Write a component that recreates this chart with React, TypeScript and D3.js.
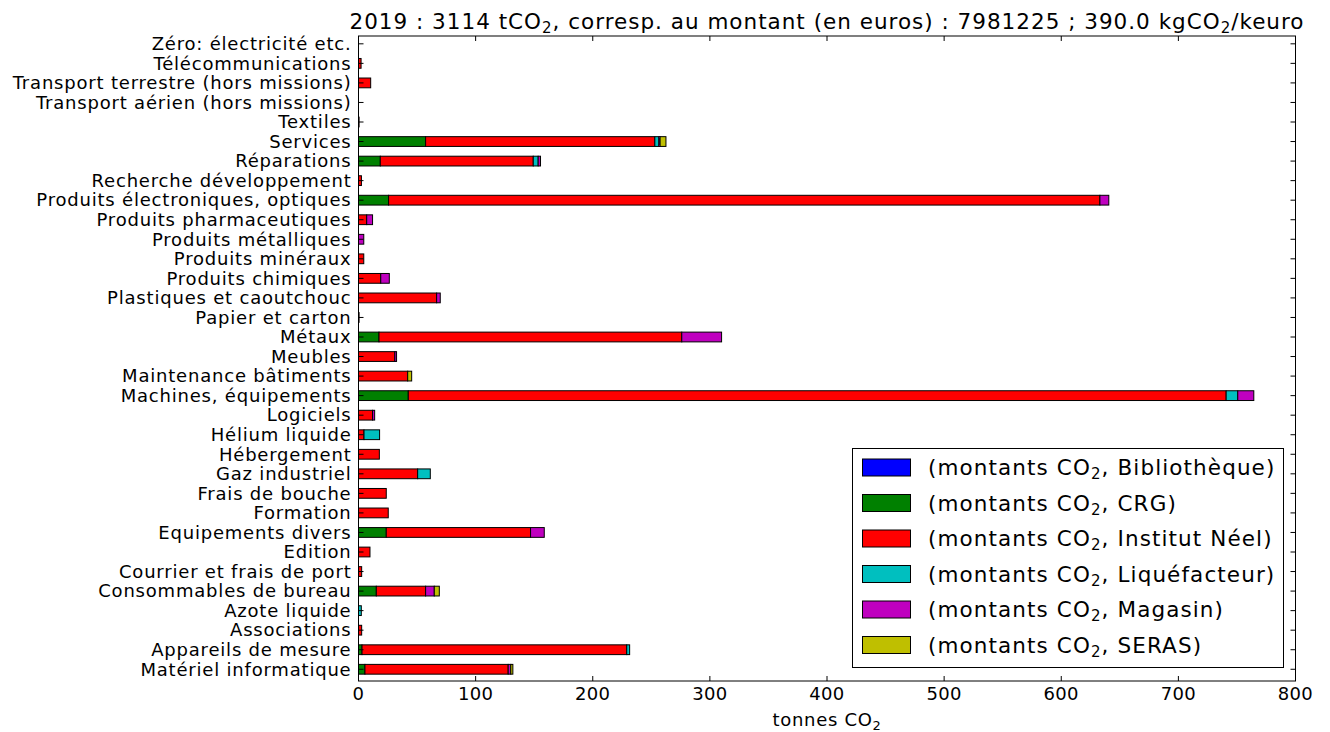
import React from "react";
import * as d3 from "d3";

const categories = [
  "Matériel informatique",
  "Appareils de mesure",
  "Associations",
  "Azote liquide",
  "Consommables de bureau",
  "Courrier et frais de port",
  "Edition",
  "Equipements divers",
  "Formation",
  "Frais de bouche",
  "Gaz industriel",
  "Hébergement",
  "Hélium liquide",
  "Logiciels",
  "Machines, équipements",
  "Maintenance bâtiments",
  "Meubles",
  "Métaux",
  "Papier et carton",
  "Plastiques et caoutchouc",
  "Produits chimiques",
  "Produits minéraux",
  "Produits métalliques",
  "Produits pharmaceutiques",
  "Produits électroniques, optiques",
  "Recherche développement",
  "Réparations",
  "Services",
  "Textiles",
  "Transport aérien (hors missions)",
  "Transport terrestre (hors missions)",
  "Télécommunications",
  "Zéro: électricité etc.",
];

const seriesNames = ["Bibliothèque", "CRG", "Institut Néel", "Liquéfacteur", "Magasin", "SERAS"];
const seriesColors = ["#0000ff", "#008000", "#ff0000", "#00bfbf", "#bf00bf", "#bfbf00"];

const bibliotheque = [0, 0, 0, 0, 0, 0, 0, 0, 0, 0, 0, 0, 0, 0, 0, 0, 0, 0, 0, 0, 0, 0, 0, 0, 0, 0, 0, 0, 0, 0, 0, 0, 0];
const crg = [5.5, 3, 0, 0, 15.2, 0, 0, 23.7, 0, 0, 0, 0, 0, 0, 42.5, 0, 0, 17.5, 0, 0, 0, 0, 0, 0, 25.7, 0, 18.6, 57.3, 0, 0, 0, 0, 0];
const neel = [122.3, 226, 2.7, 0, 42.1, 2.7, 9.8, 123.2, 25.4, 23.7, 50.5, 17.8, 4.7, 12, 698.3, 42, 31, 258.5, 0.5, 66.7, 19, 4.5, 0, 7, 607.3, 2.5, 130.6, 195.7, 0.5, 0, 10.4, 2.2, 0];
const liquefacteur = [0, 2.5, 0, 2.4, 0, 0, 0, 0, 0, 0, 10.8, 0, 13.3, 0, 9.9, 0, 0, 0, 0, 0, 0, 0, 0, 0, 0, 0, 4.2, 3.5, 0, 0, 0, 0, 0];
const magasin = [2.2, 0, 0, 0, 7.4, 0, 0, 11.7, 0, 0, 0, 0, 0, 1.8, 13.7, 0, 1.5, 34, 0, 3.1, 7.3, 0, 4.5, 5, 7.6, 0, 2, 1, 0, 0, 0, 0, 0];
const seras = [1.8, 0, 0, 0, 4.3, 0, 0, 0, 0, 0, 0, 0, 0, 0, 0, 3.4, 0, 0, 0, 0, 0, 0, 0, 0, 0, 0, 0, 5, 0, 0, 0, 0, 0];

const xTicks = [0, 100, 200, 300, 400, 500, 600, 700, 800];

const FONT = "DejaVu Sans, sans-serif";

export default function App() {
  const W = 1330, H = 732;
  const left = 358.5, right = 1295.5, top = 36, bottom = 681;
  const x = d3.scaleLinear().domain([0, 800]).range([left, right]);
  const y = d3.scaleLinear().domain([-0.6, 32.4]).range([bottom, top]);
  const barH = Math.abs(y(0.25) - y(-0.25));

  const seriesData = [bibliotheque, crg, neel, liquefacteur, magasin, seras];
  const rows = categories.map((c, i) => {
    const obj: any = { cat: c };
    seriesNames.forEach((s, k) => (obj[s] = seriesData[k][i]));
    return obj;
  });
  const stacked = d3.stack().keys(seriesNames)(rows);

  return (
    <svg width={W} height={H} style={{ position: "absolute", left: 0, top: 0, background: "#fff" }} fontFamily={FONT}>
      <rect x={0} y={0} width={W} height={H} fill="#fff" />
      {stacked.map((layer, k) => (
        <g key={k}>
          {layer.map((d, i) => {
            const w = x(d[1]) - x(d[0]);
            if (w <= 0) return null;
            return (
              <rect
                key={i}
                x={x(d[0])}
                y={y(i) - barH / 2}
                width={w}
                height={barH}
                fill={seriesColors[k]}
                stroke="#000"
                strokeWidth={1}
              />
            );
          })}
        </g>
      ))}
      {/* frame */}
      <rect x={left} y={top} width={right - left} height={bottom - top} fill="none" stroke="#000" strokeWidth={1} />
      {/* y ticks and labels */}
      {categories.map((c, i) => (
        <g key={c}>
          <line x1={left} x2={left + 5} y1={y(i)} y2={y(i)} stroke="#000" />
          <line x1={right} x2={right - 5} y1={y(i)} y2={y(i)} stroke="#000" />
          <text x={left - 7} y={y(i)} dy="0.35em" textAnchor="end" fontSize={18} letterSpacing={0.8}>
            {c}
          </text>
        </g>
      ))}
      {/* x ticks */}
      {xTicks.map((t) => (
        <g key={t}>
          <line x1={x(t)} x2={x(t)} y1={bottom} y2={bottom - 5} stroke="#000" />
          <line x1={x(t)} x2={x(t)} y1={top} y2={top + 5} stroke="#000" />
          <text x={x(t)} y={bottom + 19} textAnchor="middle" fontSize={18} letterSpacing={0.3}>
            {t}
          </text>
        </g>
      ))}
      <text x={(left + right) / 2} y={726} textAnchor="middle" fontSize={18} letterSpacing={0.7}>
        tonnes CO<tspan fontSize={13} dy={4}>2</tspan>
      </text>
      {/* title */}
      <text x={(left + right) / 2} y={29} textAnchor="middle" fontSize={21.5} letterSpacing={1.0}>
        2019 : 3114 tCO<tspan fontSize={15} dy={4}>2</tspan>
        <tspan dy={-4}>, corresp. au montant (en euros) : 7981225 ; 390.0 kgCO</tspan>
        <tspan fontSize={15} dy={4}>2</tspan>
        <tspan dy={-4}>/keuro</tspan>
      </text>
      {/* legend */}
      <rect x={852.5} y={448.5} width={431} height={219} fill="#fff" stroke="#000" strokeWidth={1} />
      {seriesNames.map((s, k) => {
        const cy = 467.5 + k * 35.5;
        return (
          <g key={s}>
            <rect x={862.5} y={cy - 8.5} width={48} height={17} fill={seriesColors[k]} stroke="#000" strokeWidth={1} />
            <text x={928} y={cy} dy="0.35em" fontSize={21.5} letterSpacing={1.1}>
              (montants CO<tspan fontSize={15} dy={4}>2</tspan>
              <tspan dy={-4}>, {s})</tspan>
            </text>
          </g>
        );
      })}
    </svg>
  );
}
